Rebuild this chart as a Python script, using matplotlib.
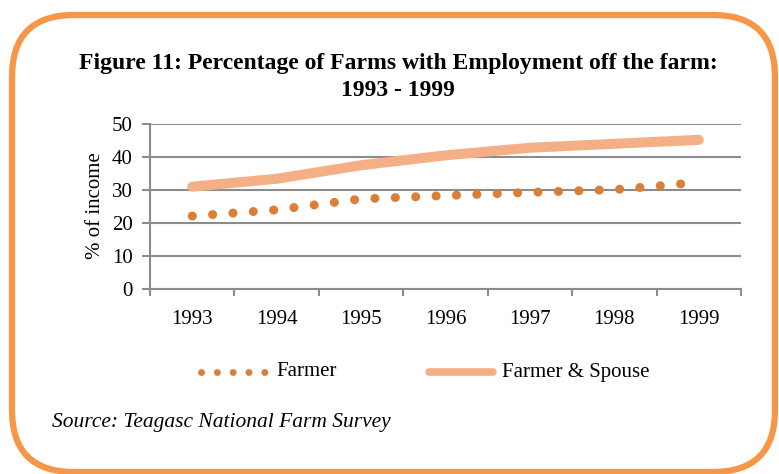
""" Figure 11: farms with off-farm employment, 1993 - 1999 """
import matplotlib
matplotlib.use("Agg")
from matplotlib import pyplot as plt
from matplotlib import patches
from matplotlib.transforms import IdentityTransform
from matplotlib.lines import Line2D
import numpy as np

# data
years = ["1993", "1994", "1995", "1996", "1997", "1998", "1999"]
farmer = [22.1, 24.0, 27.3, 28.3, 29.3, 30.1, 32.3]
farmer_spouse = [31.0, 33.4, 37.5, 40.5, 42.8, 44.0, 45.2]
y_ticks = [0, 10, 20, 30, 40, 50]

# colours
_border_color = "#F79646"
_farmer_color = "#DC7F36"
_spouse_color = "#F5AF87"
_grid_color = "#8C8C8C"
_H = 474  # figure height in pixels

plt.rcParams["font.family"] = ["Liberation Serif", "DejaVu Serif"]

fig = plt.figure(figsize=(7.79, 4.74), dpi=100)
ax = fig.add_axes([150 / 779, 1 - 289 / _H, 591 / 779, 165 / _H])

x = np.arange(len(years))

# series
ax.plot(x, farmer_spouse, color=_spouse_color, linewidth=7.2,
        solid_capstyle="round", solid_joinstyle="round", zorder=3)
ax.plot(x, farmer, color=_farmer_color, linewidth=6.5,
        linestyle=(0, (0.01, 2.25)), dash_capstyle="round", zorder=4)

# axes layout
ax.set_xlim(-0.5, len(years) - 0.5)
ax.set_ylim(0, 50)
ax.set_yticks(y_ticks)
ax.set_xticks(x)
ax.set_xticklabels(years)
ax.set_xticks(np.arange(len(years) + 1) - 0.5, minor=True)
ax.tick_params(axis="x", which="major", length=0, pad=15, labelsize=15)
ax.tick_params(axis="x", which="minor", length=5, color=_grid_color, width=1.5)
ax.tick_params(axis="y", length=5.5, color=_grid_color, width=1.5, labelsize=15, pad=7)
ax.grid(axis="y", color=_grid_color, linewidth=1.5)
ax.set_axisbelow(True)
for side in ["top", "right"]:
    ax.spines[side].set_visible(False)
for side in ["left", "bottom"]:
    ax.spines[side].set_color(_grid_color)
    ax.spines[side].set_linewidth(1.5)
ax.set_ylabel("% of income", fontsize=15)
ax.yaxis.set_label_coords(105 / 779, 1 - 206 / _H, transform=fig.transFigure)

# title
fig.text(398 / 779, 1 - 63 / _H, "Figure 11: Percentage of Farms with Employment off the farm:",
         ha="center", va="center", fontsize=17, fontweight="bold")
fig.text(398 / 779, 1 - 90 / _H, "1993 - 1999",
         ha="center", va="center", fontsize=17, fontweight="bold")

# legend, laid out by hand in pixel coordinates
_ly = _H - 372
fig.add_artist(Line2D([201, 267], [_ly, _ly], color=_farmer_color, linewidth=5.0,
                      linestyle=(0, (0.01, 2.27)), dash_capstyle="round",
                      transform=IdentityTransform()))
fig.text(276 / 779, _ly / _H, "Farmer", ha="left", va="center", fontsize=15)
fig.add_artist(Line2D([429, 493], [_ly, _ly], color=_spouse_color, linewidth=5.5,
                      solid_capstyle="round", transform=IdentityTransform()))
fig.text(502 / 779, _ly / _H, "Farmer & Spouse", ha="left", va="center", fontsize=15)

# source note
fig.text(52 / 779, 1 - 422 / _H, "Source: Teagasc National Farm Survey",
         ha="left", va="center", fontsize=15.5, style="italic")

# rounded orange frame, drawn in pixel coordinates
_frame = patches.FancyBboxPatch(
    (12, 2), 763, 457,
    boxstyle="round,pad=0,rounding_size=62",
    facecolor="none", edgecolor=_border_color, linewidth=4.5,
    transform=IdentityTransform(), zorder=10,
)
fig.add_artist(_frame)

fig.savefig("out.png", dpi=100)
